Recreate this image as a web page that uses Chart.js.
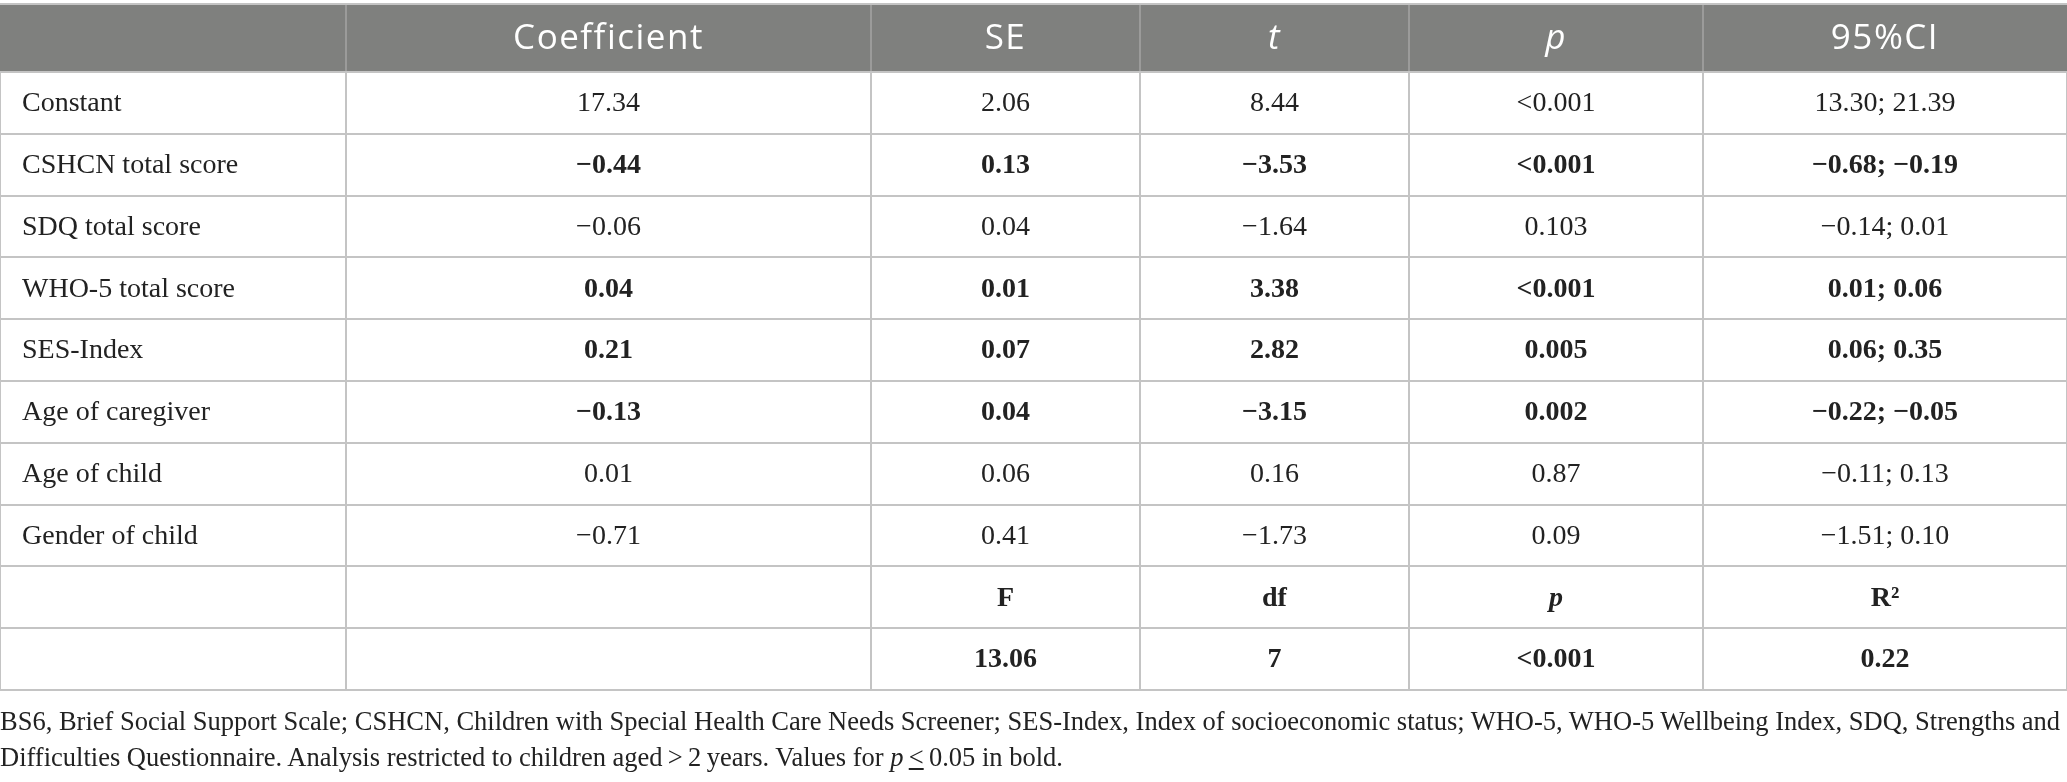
<!DOCTYPE html>
<html>
<head>
<meta charset="utf-8">
<script src="https://cdn.jsdelivr.net/npm/chart.js@4.4.0/dist/chart.umd.min.js"></script>
<style>
html, body { margin: 0; padding: 0; background: #fff; }
#wrap { position: relative; width: 2067px; height: 782px; }
#note {
    position: absolute; left: 0; top: 703px;
    font-family: "Liberation Serif", serif; font-size: 26.5px; line-height: 36px;
    color: #222; white-space: nowrap;
}
</style>
</head>
<body>
<div id="wrap">
    <canvas id="tbl" width="2067" height="782"></canvas>
    <div id="note">BS6, Brief Social Support Scale; CSHCN, Children with Special Health Care Needs Screener; SES-Index, Index of socioeconomic status; WHO-5, WHO-5 Wellbeing Index, SDQ, Strengths and<br>Difficulties Questionnaire. Analysis restricted to children aged&thinsp;&gt;&thinsp;2&thinsp;years. Values for <i>p</i>&thinsp;<u>&lt;</u>&thinsp;0.05 in bold.</div>
</div>
<script>
// table content
const headers = ['', 'Coefficient', 'SE', 't', 'p', '95%CI'];
const predictors = ['Constant', 'CSHCN total score', 'SDQ total score', 'WHO-5 total score',
    'SES-Index', 'Age of caregiver', 'Age of child', 'Gender of child'];
const coefficient = [17.34, -0.44, -0.06, 0.04, 0.21, -0.13, 0.01, -0.71];
const se = [2.06, 0.13, 0.04, 0.01, 0.07, 0.04, 0.06, 0.41];
const tValues = [8.44, -3.53, -1.64, 3.38, 2.82, -3.15, 0.16, -1.73];
const pValues = ['<0.001', '<0.001', '0.103', '<0.001', '0.005', '0.002', '0.87', '0.09'];
const ciLower = [13.30, -0.68, -0.14, 0.01, 0.06, -0.22, -0.11, -1.51];
const ciUpper = [21.39, -0.19, 0.01, 0.06, 0.35, -0.05, 0.13, 0.10];
const significant = [false, true, false, true, true, true, false, false];
const modelLabels = ['F', 'df', 'p', 'R²'];
const modelF = 13.06;
const modelDf = 7;
const modelP = '<0.001';
const modelR2 = 0.22;

// layout (table units = px)
const colEdges = [0, 346, 871, 1140, 1409, 1703, 2067];
const headH = 68;
const rowH = 61.8;
const leftPad = 22;

const fmt = v => (v < 0 ? '\u2212' : '') + Math.abs(v).toFixed(2);
const serif = '"Liberation Serif", serif';
const sans = '"Open Sans", sans-serif';

// rows of the body: [text, bold, italic] per column
const bodyRows = predictors.map((name, i) => {
    const b = significant[i];
    return [[name, false], [fmt(coefficient[i]), b], [fmt(se[i]), b], [fmt(tValues[i]), b],
        [pValues[i], b], [fmt(ciLower[i]) + '; ' + fmt(ciUpper[i]), b]];
});
bodyRows.push([['', false], ['', false]].concat(modelLabels.map(l => [l, true, l === 'p'])));
bodyRows.push([['', false], ['', false], [modelF.toFixed(2), true], [String(modelDf), true],
    [modelP, true], [modelR2.toFixed(2), true]]);

const rowEdges = [0, headH];
bodyRows.forEach(() => rowEdges.push(rowEdges[rowEdges.length - 1] + rowH));
const tableH = rowEdges[rowEdges.length - 1];

function colX(c) {
    return c === 0 ? colEdges[0] + leftPad : (colEdges[c] + colEdges[c + 1]) / 2;
}

// one point dataset per column, each point carries its cell
const datasets = headers.map((h, c) => {
    const cells = [{ text: h, head: true, italic: h === 't' || h === 'p' }];
    const pts = [{ x: colX(c), y: headH / 2 }];
    bodyRows.forEach((row, r) => {
        cells.push({ text: row[c][0], bold: row[c][1], italic: row[c][2] });
        pts.push({ x: colX(c), y: rowEdges[r + 1] + rowH / 2 });
    });
    return { label: h || 'name', data: pts, cells: cells, pointRadius: 0, align: c === 0 ? 'left' : 'center' };
});

const cellText = {
    id: 'cellText',
    beforeDatasetsDraw(chart) {
        const { ctx, scales: { x, y } } = chart;
        const top = y.getPixelForValue(0), bot = y.getPixelForValue(headH);
        ctx.save();
        ctx.fillStyle = '#7f807e';
        ctx.fillRect(x.left, top + 1, x.width, bot - top - 2);
        ctx.strokeStyle = '#a4a4a4';
        ctx.lineWidth = 1.5;
        colEdges.slice(1, -1).forEach(e => {
            const px = x.getPixelForValue(e);
            ctx.beginPath();
            ctx.moveTo(px, top + 1);
            ctx.lineTo(px, bot - 1);
            ctx.stroke();
        });
        ctx.restore();
    },
    afterDatasetsDraw(chart) {
        const ctx = chart.ctx;
        ctx.save();
        ctx.textBaseline = 'middle';
        chart.data.datasets.forEach((ds, i) => {
            const meta = chart.getDatasetMeta(i);
            meta.data.forEach((pt, j) => {
                const c = ds.cells[j];
                if (!c.text) return;
                if (c.head) {
                    ctx.font = (c.italic ? 'italic ' : '') + '35px ' + sans;
                    ctx.letterSpacing = '1.5px';
                    ctx.fillStyle = '#ffffff';
                    ctx.textAlign = 'center';
                } else {
                    ctx.font = (c.italic ? 'italic ' : '') + (c.bold ? 'bold ' : '') + '28px ' + serif;
                    ctx.letterSpacing = '0px';
                    ctx.fillStyle = '#222222';
                    ctx.textAlign = ds.align;
                }
                ctx.fillText(c.text, pt.x, pt.y + 1);
            });
        });
        ctx.restore();
    }
};

function edgeTicks(edges) {
    return scale => { scale.ticks = edges.map(v => ({ value: v })); };
}

new Chart(document.getElementById('tbl'), {
    type: 'scatter',
    data: { datasets: datasets },
    options: {
        responsive: false,
        animation: false,
        devicePixelRatio: 1,
        layout: { padding: { top: 4, bottom: 782 - 4 - tableH, left: 0, right: 0 } },
        plugins: { legend: { display: false }, tooltip: { enabled: false } },
        scales: {
            x: {
                type: 'linear', min: 0, max: colEdges[colEdges.length - 1],
                afterBuildTicks: edgeTicks(colEdges),
                ticks: { display: false },
                grid: { color: '#c4c4c4', lineWidth: 2, drawTicks: false },
                border: { display: false }
            },
            y: {
                type: 'linear', reverse: true, min: 0, max: tableH,
                afterBuildTicks: edgeTicks(rowEdges),
                ticks: { display: false },
                grid: { color: '#c4c4c4', lineWidth: 2, drawTicks: false },
                border: { display: false }
            }
        }
    },
    plugins: [cellText]
});
</script>
</body>
</html>
